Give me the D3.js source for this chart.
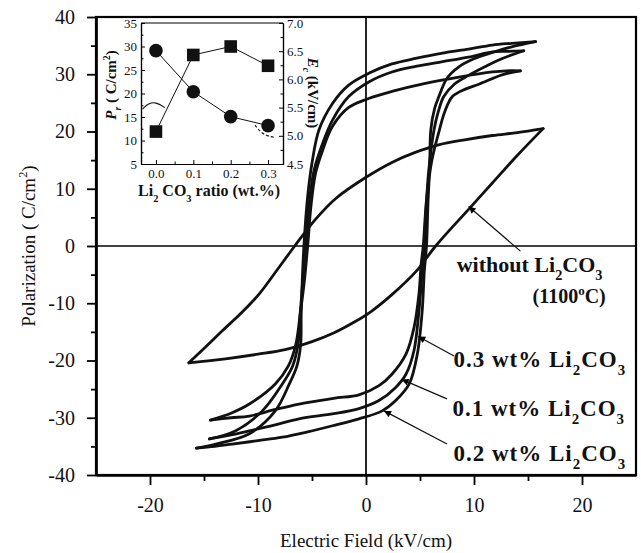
<!DOCTYPE html>
<html><head><meta charset="utf-8">
<script src="https://cdn.jsdelivr.net/npm/d3@7"></script>
<style>
html,body{margin:0;padding:0;background:#fff;}
svg{display:block;font-family:"Liberation Serif","Times New Roman",serif;}
</style></head>
<body><svg id="c" width="641" height="553"></svg>
<script>
// ---------- DATA ----------
const xTicks = [-20, -10, 0, 10, 20];
const xMinor = [-15, -5, 5, 15];
const yTicks = [-40, -30, -20, -10, 0, 10, 20, 30, 40];
const yMinor = [-35, -25, -15, -5, 5, 15, 25, 35];

// Hysteresis loops [E (kV/cm), P (uC/cm2)] : descending (upper) and ascending (lower) branches
const loop00Down = [[16.4,20.5],[14,19.8],[11.7,19.3],[9,18.5],[6.8,17.7],[4.5,16.3],[2.4,14.6],[0,12.0],[-2.8,8.3],[-4.7,4.6],[-6.6,0],[-8.2,-4.1],[-9.9,-8.4],[-11.6,-11.8],[-13.3,-14.8],[-15,-17.9],[-16.4,-20.4]];
const loop00Up = [[-16.4,-20.4],[-13,-19.7],[-10,-18.9],[-7.5,-18.1],[-5,-16.7],[-3,-15.2],[-1,-13.2],[0.5,-11.4],[2.4,-8.5],[4.7,-4.3],[6.45,0],[9.5,6.4],[11.7,11],[14,15.8],[16.4,20.5]];

const loop01Down = [[14.6,34.1],[13,34],[11.7,33.9],[9.5,33.0],[7.1,32.2],[4.7,31.4],[2.4,30.4],[0.3,28.7],[-1.6,26.1],[-3.1,22],[-4,18],[-4.8,13.3],[-5.3,6.9],[-5.6,0],[-5.85,-6],[-6.1,-12],[-6.3,-17.2],[-6.8,-21],[-7.75,-24.1],[-9.6,-28.8],[-12.1,-32.3],[-14.5,-33.7]];
const loop01Up = [[-14.5,-33.7],[-12.5,-33],[-10.8,-32.3],[-8.5,-31.3],[-6.2,-30.2],[-3,-29.3],[-0.65,-28.4],[1.2,-27],[2.75,-24.7],[3.7,-22.4],[4.44,-18.3],[4.9,-11.4],[5.2,-4.4],[5.4,0],[5.55,6],[5.8,13],[6.3,20.3],[6.7,23.5],[7.2,26.1],[8.2,28.3],[9.5,29.8],[11,31.3],[12.3,32.5],[14.6,34.1]];

const loop02Down = [[15.7,35.7],[13.5,35.4],[11.7,35.1],[9.5,34.4],[7.1,33.7],[4.7,32.8],[2.4,31.8],[0.3,30.2],[-1.6,28.1],[-3.1,24.9],[-4.35,20.3],[-5,14.5],[-5.4,8.7],[-5.75,0],[-5.9,-6],[-6.0,-12],[-6.05,-17.2],[-6.4,-21],[-7.1,-24.1],[-8.4,-28.8],[-10.8,-32.8],[-13.9,-34.6],[-15.7,-35.3]];
const loop02Up = [[-15.7,-35.3],[-14,-35.0],[-12.4,-34.6],[-10,-34.0],[-7.75,-33.4],[-5.5,-32.5],[-3.1,-31.4],[-0.65,-30.2],[1.5,-28.8],[2.75,-27],[4,-24.1],[4.75,-18.9],[5.2,-11.4],[5.4,-4.4],[5.6,0],[5.75,8],[5.9,14],[6.0,20.3],[6.35,24],[6.75,26.1],[7.5,29.3],[8.6,31.3],[10,32.7],[11.7,33.8],[13.5,34.8],[15.7,35.7]];

const loop03Down = [[14.3,30.6],[13,30.6],[11.7,30.4],[8.6,29.5],[5.5,28.4],[2.4,27],[0.3,25.8],[-1.6,24.2],[-3.1,20.9],[-4,16.8],[-4.66,12.8],[-5.1,6.9],[-5.4,0],[-5.7,-6],[-6.1,-12],[-6.5,-17.2],[-7.2,-21],[-8.4,-24.1],[-10.8,-27.6],[-12.5,-29.2],[-14.4,-30.4]];
const loop03Up = [[-14.4,-30.4],[-12.5,-30.0],[-10.8,-29.7],[-8.5,-28.6],[-6.2,-27.6],[-3,-26.6],[-0.65,-26.0],[1.2,-24.4],[2.4,-22.4],[3.7,-18.9],[4.44,-14.3],[4.9,-8.4],[5.1,-3.3],[5.3,0],[5.6,8],[6.1,15],[6.8,20.3],[7.3,23.5],[8.0,26.1],[9.2,27.4],[10.5,28.3],[12.6,29.9],[14.3,30.6]];

// Inset data
const insetRatio = [0.0, 0.1, 0.2, 0.3];
const insetPr = [11.9, 28.2, 30.0, 25.9];
const insetEc = [6.51, 5.78, 5.34, 5.18];
const insetXTicks = [0.0, 0.1, 0.2, 0.3];
const insetXMinor = [0.05, 0.15, 0.25];
const insetLTicks = [5, 10, 15, 20, 25, 30, 35];
const insetLMinor = [7.5, 12.5, 17.5, 22.5, 27.5, 32.5];
const insetRTicks = [4.5, 5.0, 5.5, 6.0, 6.5, 7.0];
const insetRMinor = [4.75, 5.25, 5.75, 6.25, 6.75];
// inset guide arcs [ratio, value]
const arcPr = [[-0.036,16.7],[-0.02,17.9],[0.0,18.2],[0.024,17.0]];
const arcEc = [[0.265,5.19],[0.28,5.06],[0.3,4.99],[0.32,4.97]];

// Annotations: arrow tail -> head in [E,P]
const arrows = [
  {from:[14.3,-0.9], to:[9.5,6.9]},
  {from:[8.15,-19.2], to:[4.84,-15.8]},
  {from:[7.5,-26.7], to:[3.3,-23.3]},
  {from:[7.5,-34.6], to:[1.67,-28.8]}
];

// ---------- DRAW ----------
const FONT = '"Liberation Serif","Times New Roman",serif';
const svg = d3.select('#c');
const x = d3.scaleLinear().domain([-25,25]).range([96,636]);
const y = d3.scaleLinear().domain([-40,40]).range([475,17]);

svg.append('defs').append('marker').attr('id','ah').attr('viewBox','0 0 10 10')
  .attr('refX',10).attr('refY',5).attr('markerWidth',10).attr('markerHeight',7)
  .attr('markerUnits','userSpaceOnUse').attr('orient','auto')
  .append('path').attr('d','M0,0 L10,5 L0,10 Z').attr('fill','#000');

function rich(t, parts, fs){
  let cur = 0;
  parts.forEach(p=>{
    const target = p.sub ? fs*0.35 : (p.sup ? -fs*0.42 : 0);
    const ts = t.append('tspan').attr('dy', target-cur).text(p.t);
    if(p.sub||p.sup) ts.attr('font-size', fs*0.65);
    if(p.it) ts.attr('font-style','italic');
    cur = target;
  });
}

// zero lines
svg.append('line').attr('x1',x(0)).attr('x2',x(0)).attr('y1',y(40)).attr('y2',y(-40)).attr('stroke','#000').attr('stroke-width',1.7);
svg.append('line').attr('x1',x(-25)).attr('x2',x(25)).attr('y1',y(0)).attr('y2',y(0)).attr('stroke','#000').attr('stroke-width',1.7);

// loops
const line = d3.line().x(d=>x(d[0])).y(d=>y(d[1])).curve(d3.curveCatmullRom.alpha(0.5));
[loop00Down,loop00Up,loop01Down,loop01Up,loop02Down,loop02Up,loop03Down,loop03Up].forEach(b=>{
  svg.append('path').attr('d',line(b)).attr('fill','none').attr('stroke','#111')
    .attr('stroke-width',2.8).attr('stroke-linejoin','round').attr('stroke-linecap','round');
});

// frame
svg.append('rect').attr('x',x(-25)).attr('y',y(40)).attr('width',x(25)-x(-25)).attr('height',y(-40)-y(40))
  .attr('fill','none').attr('stroke','#000').attr('stroke-width',2.2);

// axes
const fsTick = 20;
const gx = svg.append('g').attr('transform',`translate(0,${y(-40)})`)
  .call(d3.axisBottom(x).tickValues(xTicks).tickSize(10).tickSizeOuter(0).tickPadding(13));
svg.append('g').attr('transform',`translate(0,${y(-40)})`)
  .call(d3.axisBottom(x).tickValues(xMinor).tickSize(6).tickSizeOuter(0).tickFormat(''));
const gy = svg.append('g').attr('transform',`translate(${x(-25)},0)`)
  .call(d3.axisLeft(y).tickValues(yTicks).tickSize(9).tickSizeOuter(0).tickPadding(12));
svg.append('g').attr('transform',`translate(${x(-25)},0)`)
  .call(d3.axisLeft(y).tickValues(yMinor).tickSize(5).tickSizeOuter(0).tickFormat(''));
svg.selectAll('.domain').attr('stroke','#000').attr('stroke-width',2.2);
svg.selectAll('.tick line').attr('stroke','#000').attr('stroke-width',1.8);
svg.selectAll('.tick text').attr('font-family',FONT).attr('font-size',fsTick).attr('fill','#111');
gx.selectAll('.tick text').text(d=>d<0?'-'+Math.abs(d):d);
gy.selectAll('.tick text').text(d=>d<0?'-'+Math.abs(d):d);

// axis titles
svg.append('text').attr('x',x(0)).attr('y',547).attr('text-anchor','middle').attr('font-family',FONT).attr('font-size',19).attr('fill','#111').text('Electric Field (kV/cm)');
const yl = svg.append('text').attr('transform',`translate(35,${y(0)}) rotate(-90)`).attr('text-anchor','middle').attr('font-family',FONT).attr('font-size',19).attr('fill','#111');
rich(yl,[{t:'Polarization (  C/cm'},{t:'2',sup:true},{t:')'}],19);

// annotations
arrows.forEach(a=>{
  svg.append('line').attr('x1',x(a.from[0])).attr('y1',y(a.from[1])).attr('x2',x(a.to[0])).attr('y2',y(a.to[1]))
    .attr('stroke','#111').attr('stroke-width',1.2).attr('marker-end','url(#ah)');
});
const lab = (ex,py,fs,parts,anchor,ls)=>{
  const t = svg.append('text').attr('x',x(ex)).attr('y',y(py)).attr('font-family',FONT).attr('font-size',fs).attr('font-weight','bold').attr('fill','#111').attr('text-anchor',anchor||'start');
  if(ls) t.attr('letter-spacing',ls);
  rich(t,parts,fs);
};
lab(8.4,-4.6,22,[{t:'without Li'},{t:'2',sub:true},{t:'CO'},{t:'3',sub:true}]);
lab(22.2,-10,20,[{t:'(1100'},{t:'o',sup:true},{t:'C)'}],'end');
lab(8.1,-21.2,23,[{t:'0.3 wt% Li'},{t:'2',sub:true},{t:'CO'},{t:'3',sub:true}],'start',1);
lab(8.0,-29.7,23,[{t:'0.1 wt% Li'},{t:'2',sub:true},{t:'CO'},{t:'3',sub:true}],'start',1);
lab(8.1,-37.5,23,[{t:'0.2 wt% Li'},{t:'2',sub:true},{t:'CO'},{t:'3',sub:true}],'start',1);

// ---------- INSET ----------
const ix = d3.scaleLinear().domain([-0.04,0.34]).range([141,283]);
const iyL = d3.scaleLinear().domain([5,35]).range([164,23]);
const iyR = d3.scaleLinear().domain([4.5,7.0]).range([164,23]);
const ins = svg.append('g');
ins.append('rect').attr('x',141).attr('y',23).attr('width',142).attr('height',141).attr('fill','#fff').attr('stroke','none');

const ib = ins.append('g').attr('transform',`translate(0,${iyL(5)})`)
  .call(d3.axisBottom(ix).tickValues(insetXTicks).tickSize(-4).tickSizeOuter(0).tickPadding(6).tickFormat(d3.format('.1f')));
ins.append('g').attr('transform',`translate(0,${iyL(5)})`)
  .call(d3.axisBottom(ix).tickValues(insetXMinor).tickSize(-2.5).tickSizeOuter(0).tickFormat(''));
const il = ins.append('g').attr('transform',`translate(${ix(-0.04)},0)`)
  .call(d3.axisLeft(iyL).tickValues(insetLTicks).tickSize(-4).tickSizeOuter(0).tickPadding(4));
ins.append('g').attr('transform',`translate(${ix(-0.04)},0)`)
  .call(d3.axisLeft(iyL).tickValues(insetLMinor).tickSize(-2.5).tickSizeOuter(0).tickFormat(''));
const ir = ins.append('g').attr('transform',`translate(${ix(0.34)},0)`)
  .call(d3.axisRight(iyR).tickValues(insetRTicks).tickSize(-4).tickSizeOuter(0).tickPadding(4).tickFormat(d3.format('.1f')));
ins.append('g').attr('transform',`translate(${ix(0.34)},0)`)
  .call(d3.axisRight(iyR).tickValues(insetRMinor).tickSize(-2.5).tickSizeOuter(0).tickFormat(''));
ins.append('line').attr('x1',141).attr('x2',283).attr('y1',23).attr('y2',23).attr('stroke','#000').attr('stroke-width',1.2);
ins.selectAll('.domain').attr('stroke','#000').attr('stroke-width',1.2);
ins.selectAll('.tick line').attr('stroke','#000').attr('stroke-width',1);
ins.selectAll('.tick text').attr('font-family',FONT).attr('font-size',13).attr('fill','#111');
ib.selectAll('.tick text').attr('dy','0.6em');

// inset lines & markers
const lineL = d3.line().x((d,i)=>ix(insetRatio[i])).y(d=>iyL(d));
const lineR = d3.line().x((d,i)=>ix(insetRatio[i])).y(d=>iyR(d));
ins.append('path').attr('d',lineL(insetPr)).attr('fill','none').attr('stroke','#111').attr('stroke-width',1);
ins.append('path').attr('d',lineR(insetEc)).attr('fill','none').attr('stroke','#111').attr('stroke-width',1);
ins.selectAll('rect.sq').data(insetPr).join('rect').attr('class','sq')
  .attr('x',(d,i)=>ix(insetRatio[i])-6.3).attr('y',d=>iyL(d)-6.3).attr('width',12.6).attr('height',12.6).attr('fill','#111');
ins.selectAll('circle.ci').data(insetEc).join('circle').attr('class','ci')
  .attr('cx',(d,i)=>ix(insetRatio[i])).attr('cy',d=>iyR(d)).attr('r',6.8).attr('fill','#111');

// guide arcs
const arcLine = d3.line().curve(d3.curveBasis);
ins.append('path').attr('d',arcLine(arcPr.map(d=>[ix(d[0]),iyL(d[1])]))).attr('fill','none').attr('stroke','#111').attr('stroke-width',1.1);
ins.append('path').attr('d',arcLine(arcEc.map(d=>[ix(d[0]),iyR(d[1])]))).attr('fill','none').attr('stroke','#111').attr('stroke-width',1.1).attr('stroke-dasharray','3,2');

// inset titles
const ixl = svg.append('text').attr('x',209).attr('y',196).attr('text-anchor','middle').attr('font-family',FONT).attr('font-size',16).attr('font-weight','bold').attr('fill','#111');
rich(ixl,[{t:'Li'},{t:'2',sub:true},{t:' CO'},{t:'3',sub:true},{t:' ratio (wt.%)'}],16);
const iyl = svg.append('text').attr('transform','translate(116,85) rotate(-90)').attr('text-anchor','middle').attr('font-family',FONT).attr('font-size',15).attr('font-weight','bold').attr('fill','#111');
rich(iyl,[{t:'P',it:true},{t:'r',sub:true,it:true},{t:' (  C/cm'},{t:'2',sup:true},{t:')'}],15);
const iyr = svg.append('text').attr('transform','translate(308,93) rotate(90)').attr('text-anchor','middle').attr('font-family',FONT).attr('font-size',15).attr('font-weight','bold').attr('fill','#111');
rich(iyr,[{t:'E',it:true},{t:'c',sub:true,it:true},{t:' (kV/cm)'}],15);
</script></body></html>
